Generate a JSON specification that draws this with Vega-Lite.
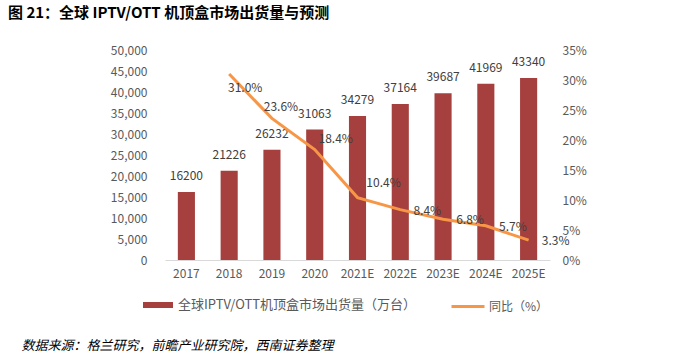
{
  "$schema": "https://vega.github.io/schema/vega-lite/v6.json",
  "width": 385,
  "height": 210,
  "autosize": {"type": "none"},
  "padding": {"left": 165, "top": 50, "right": 127, "bottom": 92},
  "background": "white",
  "title": {
    "text": "图 21：全球 IPTV/OTT 机顶盒市场出货量与预测",
    "anchor": "start",
    "frame": "group",
    "dx": -157,
    "offset": 23,
    "font": "Noto Sans CJK SC",
    "fontSize": 15,
    "fontWeight": "bold",
    "color": "#000000"
  },
  "config": {
    "view": {"stroke": null},
    "axis": {
      "labelFont": "Noto Sans CJK SC",
      "labelFontSize": 12,
      "labelColor": "#595959",
      "labelOverlap": false,
      "labelFlush": false,
      "grid": false,
      "ticks": false
    }
  },
  "data": {
    "values": [
      {"year": "2017", "shipments": 16200, "yoy": null},
      {"year": "2018", "shipments": 21226, "yoy": 0.310},
      {"year": "2019", "shipments": 26232, "yoy": 0.236},
      {"year": "2020", "shipments": 31063, "yoy": 0.184},
      {"year": "2021E", "shipments": 34279, "yoy": 0.104},
      {"year": "2022E", "shipments": 37164, "yoy": 0.084},
      {"year": "2023E", "shipments": 39687, "yoy": 0.068},
      {"year": "2024E", "shipments": 41969, "yoy": 0.057},
      {"year": "2025E", "shipments": 43340, "yoy": 0.033}
    ]
  },
  "encoding": {
    "x": {
      "field": "year",
      "type": "nominal",
      "sort": null,
      "scale": {"paddingInner": 0.6, "paddingOuter": 0.3},
      "axis": {
        "labelAngle": 0,
        "labelPadding": 8,
        "domainColor": "#D9D9D9",
        "domainWidth": 1,
        "title": "数据来源：格兰研究，前瞻产业研究院，西南证券整理",
        "titleFont": "Noto Sans CJK SC",
        "titleFontSize": 13,
        "titleFontStyle": "italic",
        "titleFontWeight": "normal",
        "titleColor": "#000000",
        "titleAnchor": "start",
        "titleAlign": "left",
        "titleBaseline": "middle",
        "titleX": -144,
        "titleY": 85
      }
    }
  },
  "layer": [
    {
      "encoding": {
        "y": {
          "field": "shipments",
          "type": "quantitative",
          "scale": {"domain": [0, 50000]},
          "axis": {
            "title": null,
            "domain": false,
            "values": [0, 5000, 10000, 15000, 20000, 25000, 30000, 35000, 40000, 45000, 50000],
            "tickCount": 11,
            "labelOverlap": false,
            "format": ",.0f",
            "labelPadding": 18
          }
        }
      },
      "layer": [
        {
          "mark": {"type": "bar"},
          "encoding": {
            "fill": {
              "datum": "全球IPTV/OTT机顶盒市场出货量（万台）",
              "scale": {"range": ["#A5403F"]},
              "legend": {
                "title": null,
                "orient": "none",
                "legendX": -22,
                "legendY": 240,
                "padding": 0,
                "symbolType": "M-1,-0.2H1V0.2H-1Z",
                "symbolSize": 900,
                "symbolStrokeWidth": 0,
                "labelOffset": 5,
                "labelLimit": 400,
                "labelFont": "Noto Sans CJK SC",
                "labelFontSize": 13,
                "labelColor": "#595959"
              }
            }
          }
        },
        {
          "mark": {"type": "text", "baseline": "middle", "dy": -16, "font": "Noto Sans CJK SC", "fontSize": 12, "color": "#404040"},
          "encoding": {
            "text": {"field": "shipments", "type": "quantitative", "format": "d"}
          }
        }
      ]
    },
    {
      "transform": [{"filter": "datum.yoy != null"}],
      "encoding": {
        "y": {
          "field": "yoy",
          "type": "quantitative",
          "scale": {"domain": [0, 0.35]},
          "axis": {
            "orient": "right",
            "title": null,
            "domain": false,
            "values": [0, 0.05, 0.1, 0.15, 0.2, 0.25, 0.3, 0.35],
            "tickCount": 8,
            "labelOverlap": false,
            "format": ".0%",
            "labelPadding": 12
          }
        }
      },
      "layer": [
        {
          "mark": {"type": "line", "strokeWidth": 3},
          "encoding": {
            "stroke": {
              "datum": "同比（%）",
              "scale": {"range": ["#F79646"]},
              "legend": {
                "title": null,
                "orient": "none",
                "legendX": 285,
                "legendY": 238.5,
                "padding": 0,
                "symbolType": "stroke",
                "symbolSize": 1089,
                "symbolStrokeWidth": 3,
                "labelOffset": 3,
                "labelLimit": 200,
                "labelFont": "Noto Sans CJK SC",
                "labelFontSize": 12,
                "labelColor": "#595959"
              }
            }
          }
        },
        {
          "transform": [{"filter": "datum.year == '2018'"}],
          "mark": {"type": "text", "dx": 16, "dy": 14, "font": "Noto Sans CJK SC", "fontSize": 12, "color": "#404040"},
          "encoding": {"text": {"field": "yoy", "type": "quantitative", "format": ".1%"}}
        },
        {
          "transform": [{"filter": "datum.year == '2019'"}],
          "mark": {"type": "text", "dx": 9, "dy": -11, "font": "Noto Sans CJK SC", "fontSize": 12, "color": "#404040"},
          "encoding": {"text": {"field": "yoy", "type": "quantitative", "format": ".1%"}}
        },
        {
          "transform": [{"filter": "datum.year == '2020'"}],
          "mark": {"type": "text", "dx": 21, "dy": -11, "font": "Noto Sans CJK SC", "fontSize": 12, "color": "#404040"},
          "encoding": {"text": {"field": "yoy", "type": "quantitative", "format": ".1%"}}
        },
        {
          "transform": [{"filter": "datum.year == '2021E'"}],
          "mark": {"type": "text", "dx": 26, "dy": -15, "font": "Noto Sans CJK SC", "fontSize": 12, "color": "#404040"},
          "encoding": {"text": {"field": "yoy", "type": "quantitative", "format": ".1%"}}
        },
        {
          "transform": [{"filter": "datum.year >= '2022'"}],
          "mark": {"type": "text", "dx": 27, "dy": 1, "font": "Noto Sans CJK SC", "fontSize": 12, "color": "#404040"},
          "encoding": {"text": {"field": "yoy", "type": "quantitative", "format": ".1%"}}
        }
      ]
    }
  ],
  "resolve": {"scale": {"y": "independent", "fill": "independent", "stroke": "independent"}}
}
